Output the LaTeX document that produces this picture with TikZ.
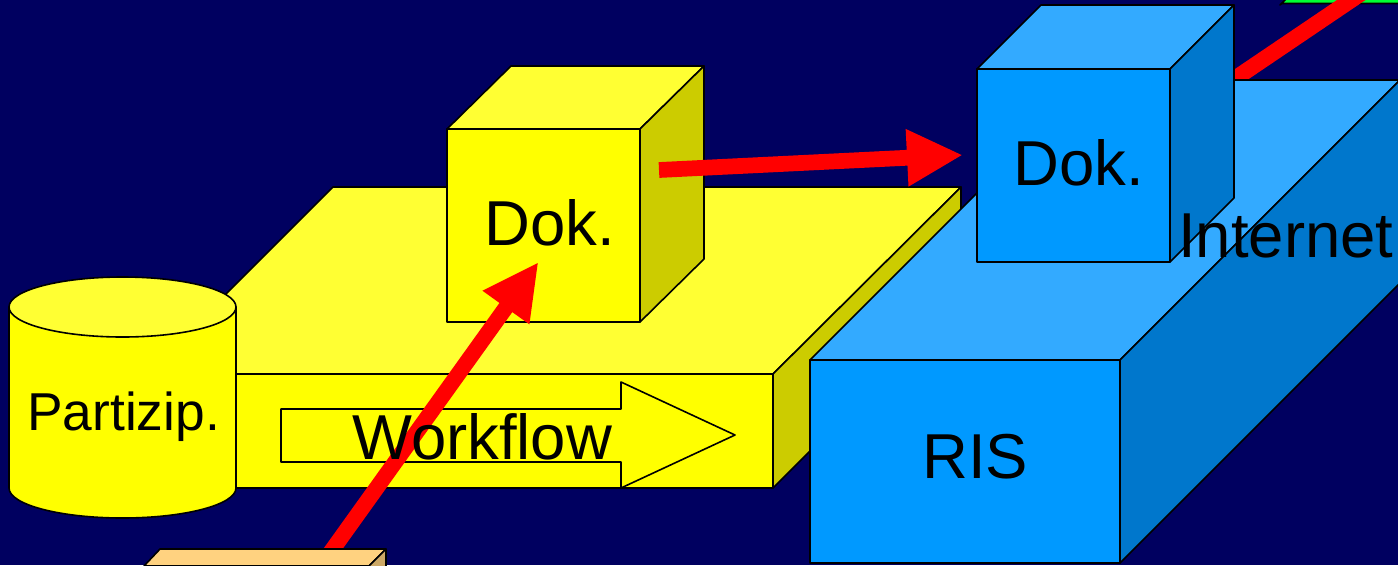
\documentclass[tikz,border=0pt]{standalone}
\usepackage{fontspec}
\setmainfont{Liberation Sans}
\usetikzlibrary{arrows.meta}
\definecolor{bgnavy}{HTML}{000060}
\definecolor{yfront}{HTML}{FFFF00}
\definecolor{ytop}{HTML}{FFFF33}
\definecolor{yside}{HTML}{CCCC00}
\definecolor{bfront}{HTML}{0099FF}
\definecolor{btop}{HTML}{33AAFF}
\definecolor{bside}{HTML}{0077CC}
\definecolor{ttop}{HTML}{FFD280}
\definecolor{tside}{HTML}{CCA866}
\definecolor{gtop}{HTML}{00FF33}
\tikzset{
  face/.style={draw=black,line width=1.2pt,line join=round},
  lbl/.style={inner sep=0pt,anchor=base west,text=black,font=\fontsize{47.6}{48}\selectfont},
  redarrow/.style={draw=red,line width=11.8pt,-{Triangle[length=42pt,width=40pt,color=red]}},
  redbar/.style={draw=red,line width=12pt},
}
\begin{document}
\begin{tikzpicture}[x=0.75pt,y=-0.75pt]
\useasboundingbox (0,0) rectangle (1398,565);
\clip (0,0) rectangle (1398,565);
\fill[bgnavy] (0,0) rectangle (1398,565);
% green box
\draw[face,fill=gtop] (1280,5) -- (1290,-5) -- (1420,-5) -- (1420,3.5) -- (1282,3.5) -- cycle;
% red arrow behind blue box
\coordinate (inA) at (1230,82);
\coordinate (inB) at (1400,-33);
\draw[redbar] (inA) -- (inB);
% Workflow box
\draw[face,fill=ytop] (146,374) -- (333,187) -- (961,187) -- (773,374) -- cycle;
\draw[face,fill=yside] (773,374) -- (961,187) -- (961,300) -- (773,488) -- cycle;
\draw[face,fill=yfront] (146,374) rectangle (773,488);
% Workflow arrow
\draw[face,fill=yfront] (281,409) -- (621,409) -- (621,382) -- (735,435) -- (621,488) -- (621,462) -- (281,462) -- cycle;
% Cylinder
\draw[face,fill=yfront] (9,307) -- (9,488) arc[start angle=180,end angle=360,x radius=113.5,y radius=-30] -- (236,307) -- cycle;
\draw[face,fill=ytop] (122.5,307) ellipse[x radius=113.5,y radius=30];
\node[lbl,font=\fontsize{40}{40}\selectfont] (partizip) at (27,430) {Partizip.};
% Yellow cube
\draw[face,fill=ytop] (447,129) -- (511,66) -- (704,66) -- (640,129) -- cycle;
\draw[face,fill=yside] (640,129) -- (704,66) -- (704,259) -- (640,322) -- cycle;
\draw[face,fill=yfront] (447,129) rectangle (640,322);
\node[lbl] (dok1) at (484,245) {Dok.};
% Red arrow to yellow cube
\coordinate (tanA) at (325,560);
\coordinate (cubeA) at (538.5,262);
\draw[redarrow] (tanA) -- (cubeA);
\node[lbl] (workflow) at (352,459) {Workflow};
% Tan box
\draw[face,fill=ttop] (160,549) -- (386,549) -- (369,566) -- (144,566) -- cycle;
\draw[face,fill=tside] (386,549) -- (386,570) -- (369,570) -- (369,566) -- cycle;
% Internet box
\draw[face,fill=btop] (810,360) -- (1090,80) -- (1400,80) -- (1120,360) -- cycle;
\draw[face,fill=bside] (1120,360) -- (1400,80) -- (1400,283) -- (1120,563) -- cycle;
\draw[face,fill=bfront] (810,360) rectangle (1120,563);
\node[lbl] (ris) at (922,478) {RIS};
% Blue cube
\draw[face,fill=btop] (977,69) -- (1041,5) -- (1234,5) -- (1170,69) -- cycle;
\draw[face,fill=bside] (1170,69) -- (1234,5) -- (1234,198) -- (1170,262) -- cycle;
\draw[face,fill=bfront] (977,69) rectangle (1170,262);
\node[lbl] (dok2) at (1013.5,185) {Dok.};
\node[lbl] (internet) at (1178,257) {Internet};
% Red arrow between cubes
\coordinate (cubeY) at (659,170);
\coordinate (cubeB) at (963,155);
\draw[redarrow] (cubeY) -- (cubeB);
\end{tikzpicture}
\end{document}
